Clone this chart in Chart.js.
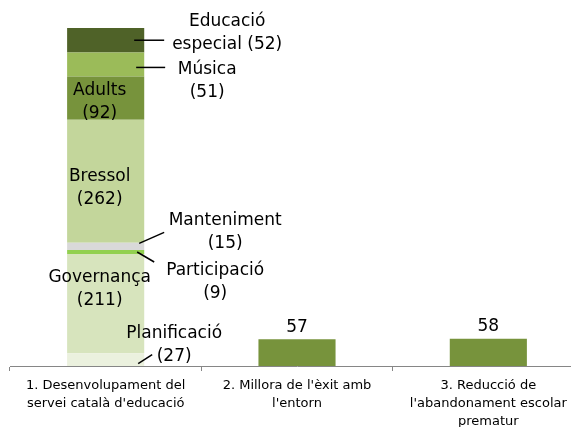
<!DOCTYPE html>
<html>
<head>
<meta charset="utf-8">
<script src="https://cdn.jsdelivr.net/npm/chart.js@4/dist/chart.umd.min.js"></script>
<style>
  html, body { margin: 0; padding: 0; background: #fff; overflow: hidden; }
  #wrap { width: 584px; height: 427px; }
</style>
</head>
<body>
<div id="wrap"><canvas id="chart" width="584" height="427"></canvas></div>
<script>
// categories on the x axis (multi-line labels)
const categories = [
    ['1. Desenvolupament del', 'servei català d\'educació'],
    ['2. Millora de l\'èxit amb', 'l\'entorn'],
    ['3. Reducció de', 'l\'abandonament escolar', 'prematur']
];

// segments of the first bar, bottom to top
const segmentNames = ['Planificació', 'Governança', 'Participació', 'Manteniment',
    'Bressol', 'Adults', 'Música', 'Educació especial'];
const segmentValues = [27, 211, 9, 15, 262, 92, 51, 52];
const segmentColors = ['#ebf1de', '#d7e4bd', '#92d050', '#d9d9d9',
    '#c3d69b', '#77933c', '#9bbb59', '#4f6228'];

// single bars for the other two categories
const otherValues = [null, 57, 58];
const otherColor = '#77933c';

// label placement per segment (relative to the bar centre / segment middle)
const labelPlacement = [
    { dx: 68.5, dy: -26, line: [32.5, 4, 46.5, -5] },
    { inside: true, dx: -6, dy: -26 },
    { dx: 109.5, dy: 19, line: [31.5, 0, 48.5, 10] },
    { dx: 119.5, dy: -25.5, line: [33.5, -3, 58.5, -14] },
    { inside: true, dx: -6, dy: -4.5 },
    { inside: true, dx: -6, dy: -7.5 },
    { dx: 101.5, dy: 5, line: [30.5, 3, 59.5, 3] },
    { dx: 121.5, dy: -18.5, line: [28.5, 0, 58.5, 0] }
];

const FONT = '"DejaVu Sans", Verdana, sans-serif';

function labelLines(name, value) {
    const sp = name.indexOf(' ');
    if (sp > 0) return [name.slice(0, sp), name.slice(sp + 1) + ' (' + value + ')'];
    return [name, '(' + value + ')'];
}

const segmentLabelsPlugin = {
    id: 'segmentLabels',
    afterDatasetsDraw(chart) {
        const ctx = chart.ctx;
        ctx.save();
        ctx.fillStyle = '#000';
        ctx.strokeStyle = '#000';
        ctx.lineWidth = 1.5;
        ctx.font = '17px ' + FONT;
        ctx.textAlign = 'center';
        ctx.textBaseline = 'middle';
        const lh = 23;

        segmentNames.forEach((name, i) => {
            const el = chart.getDatasetMeta(i).data[0];
            if (!el) return;
            const p = labelPlacement[i];
            const cy = (el.y + el.base) / 2;
            const lines = labelLines(name, segmentValues[i]);
            lines.forEach((t, k) => ctx.fillText(t, el.x + p.dx, cy + p.dy + k * lh));
            if (p.line) {
                ctx.beginPath();
                ctx.moveTo(el.x + p.line[0], cy + p.line[1]);
                ctx.lineTo(el.x + p.line[2], cy + p.line[3]);
                ctx.stroke();
            }
        });

        const meta = chart.getDatasetMeta(segmentNames.length);
        meta.data.forEach((el, j) => {
            const v = otherValues[j];
            if (v === null || v === undefined) return;
            ctx.fillText(String(v), el.x, el.y - 12);
        });
        ctx.restore();
    }
};

const datasets = segmentNames.map((name, i) => ({
    label: name,
    data: categories.map((c, j) => (j === 0 ? segmentValues[i] : null)),
    backgroundColor: segmentColors[i],
    borderWidth: 0
}));
datasets.push({
    label: 'Total',
    data: otherValues,
    backgroundColor: otherColor,
    borderWidth: 0
});

const total = segmentValues.reduce((a, b) => a + b, 0);

new Chart(document.getElementById('chart'), {
    type: 'bar',
    plugins: [segmentLabelsPlugin],
    data: { labels: categories, datasets: datasets },
    options: {
        responsive: false,
        animation: false,
        devicePixelRatio: 1,
        datasets: { bar: { barPercentage: 0.403, categoryPercentage: 1 } },
        layout: { padding: { top: 28, left: 10, right: 0, bottom: 0 } },
        plugins: { legend: { display: false }, tooltip: { enabled: false } },
        scales: {
            x: {
                stacked: true,
                grid: {
                    display: true,
                    offset: true,
                    drawOnChartArea: false,
                    drawTicks: true,
                    tickLength: 5,
                    color: '#868686'
                },
                border: { display: true, color: '#868686', width: 1 },
                ticks: {
                    color: '#000',
                    padding: 6,
                    maxRotation: 0,
                    autoSkip: false,
                    font: { family: FONT, size: 13, lineHeight: 1.385 }
                },
                afterFit(scale) { scale.height = 61; }
            },
            y: {
                stacked: true,
                display: false,
                min: 0,
                max: total
            }
        }
    }
});
</script>
</body>
</html>
